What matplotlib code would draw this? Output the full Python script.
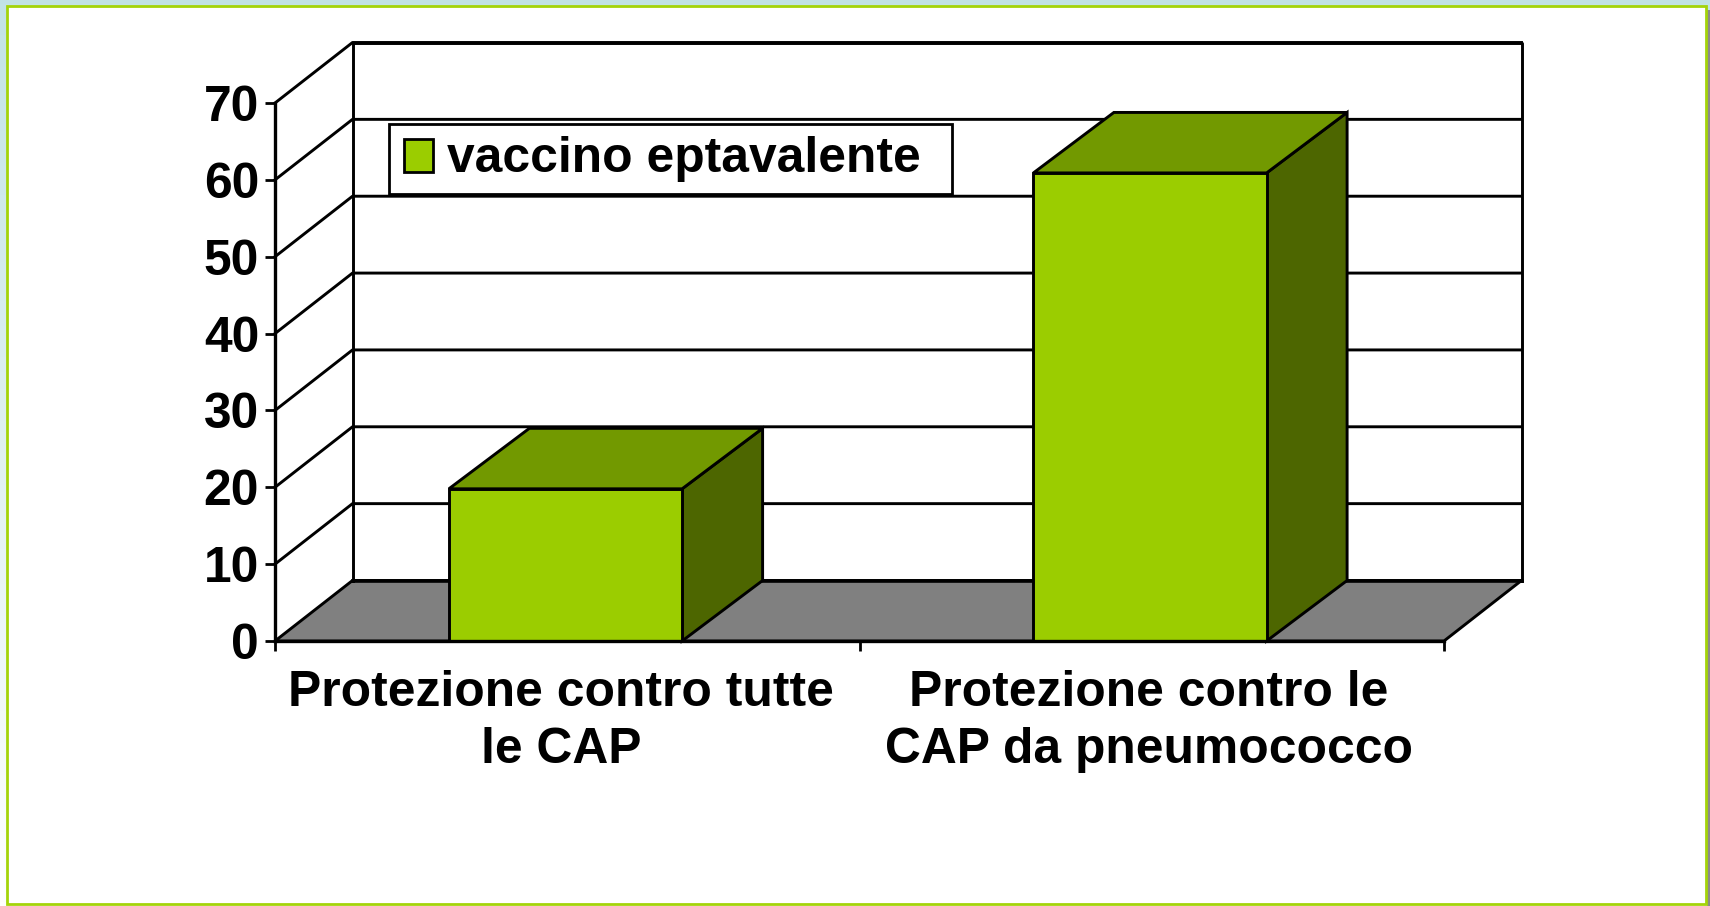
import numpy as np
import matplotlib
matplotlib.use("Agg")
import matplotlib.pyplot as plt
from matplotlib.legend_handler import HandlerPatch
from matplotlib.patches import Patch, Polygon, Rectangle

categories = ["Protezione contro tutte\nle CAP", "Protezione contro le\nCAP da pneumococco"]
series_name = "vaccino eptavalente"
values = [19.8, 60.9]
y_ticks = [0, 10, 20, 30, 40, 50, 60, 70]

W, H = 1710, 906
FS = 35.8
plt.rcParams["font.family"] = ["Liberation Sans", "DejaVu Sans"]
fig = plt.figure(figsize=(W / 100, H / 100), dpi=100, facecolor="white")

# slide background and frame (pixel coordinates)
bg = fig.add_axes([0, 0, 1, 1], zorder=0)
bg.axis("off")
top_c, bot_c = np.array([0.76, 0.89, 0.90]), np.array([1.0, 1.0, 1.0])
grad = top_c + np.linspace(0, 1, 256)[:, None, None] * (bot_c - top_c)
bg.imshow(grad, extent=[0, W, H, 0], aspect="auto", zorder=0)
bg.add_patch(Rectangle((1707, 10), 3, H - 10, fc="#8a8a8a", ec="none", zorder=1))
bg.add_patch(Rectangle((7, 6), 1699, 898, fc="white", ec="#a4d40a", lw=2.0, zorder=2))
bg.set_xlim(0, W)
bg.set_ylim(H, 0)

# front plane of the 3D chart
x0, x1, y0, y70 = 275, 1444, 641, 103
ax = fig.add_axes([x0 / W, 1 - y0 / H, (x1 - x0) / W, (y0 - y70) / H], zorder=2)
ax.set_xlim(0, 2)
ax.set_ylim(0, 70)
ax.patch.set_alpha(0)
for s in ["top", "right"]:
    ax.spines[s].set_visible(False)
for s in ["left", "bottom"]:
    ax.spines[s].set_linewidth(2.4)
    ax.spines[s].set_zorder(6)

px_x = 2 / (x1 - x0)
px_y = 70 / (y0 - y70)
dx, dy = 77.5 * px_x, 60.5 * px_y    # wall depth
bdx, bdy = 80.5 * px_x, 60.5 * px_y  # bar depth
LW = 2.1
EC = "black"

# floor
ax.add_patch(Polygon([(0, 0), (2, 0), (2 + dx, dy), (dx, dy)], closed=True, fc="#808080", ec=EC, lw=LW, zorder=1, clip_on=False))
# back wall and gridlines
ax.plot([dx, dx, 2 + dx, 2 + dx], [dy, 70 + dy, 70 + dy, dy], color=EC, lw=LW, zorder=2, clip_on=False)
for t in y_ticks[1:]:
    ax.plot([0, dx, 2 + dx], [t, t + dy, t + dy], color=EC, lw=LW, zorder=1.5, clip_on=False)
ax.plot([dx, 2 + dx], [dy, dy], color=EC, lw=2.6, zorder=2, clip_on=False)

# bars
centers = [0.497, 1.497]
width = 0.399
for c, v in zip(centers, values):
    l, r = c - width / 2, c + width / 2
    ax.add_patch(Polygon([(r, 0), (r + bdx, bdy), (r + bdx, v + bdy), (r, v)], closed=True, fc="#4d6600", ec=EC, lw=LW, zorder=3, clip_on=False))
    ax.add_patch(Polygon([(l, v), (r, v), (r + bdx, v + bdy), (l + bdx, v + bdy)], closed=True, fc="#729900", ec=EC, lw=LW, zorder=3, clip_on=False))
    ax.bar([c], [v], width=width, color="#9bcd00", edgecolor=EC, linewidth=LW, zorder=4)

ax.set_yticks(y_ticks)
ax.set_yticklabels([str(t) for t in y_ticks], fontsize=FS, fontweight="bold")
ax.tick_params(axis="y", length=7, width=2, pad=4.5)
ax.set_xticks([0, 1, 2])
ax.set_xticklabels([])
ax.tick_params(axis="x", length=7, width=2)
for pos, label in zip([0.49, 1.495], categories):
    ax.annotate(label, xy=(pos, 0), xytext=(0, -21), textcoords="offset points",
                ha="center", va="top", fontsize=FS, fontweight="bold", linespacing=1.3, zorder=7)


# legend: swatch sits a little inside its handle box
def swatch(legend, orig_handle, xdescent, ydescent, width, height, fontsize):
    return Rectangle((-xdescent + 2, -ydescent + 0.2), width - 2, height - 1.4)


handle = Patch(facecolor="#9bcd00", edgecolor=EC, linewidth=2)
leg = fig.legend([handle], [series_name], loc="upper left",
                 bbox_to_anchor=(389 / W, 1 - 194 / H, 563 / W, 70 / H), mode="expand",
                 borderaxespad=0, prop={"weight": "bold", "size": FS}, frameon=True,
                 fancybox=False, edgecolor=EC, framealpha=1, handlelength=0.65, handleheight=0.7,
                 handletextpad=0.28, borderpad=0.24,
                 handler_map={Patch: HandlerPatch(patch_func=swatch)})
leg.get_frame().set_linewidth(2)
leg.set_zorder(10)

fig.savefig("out.png", dpi=100)
